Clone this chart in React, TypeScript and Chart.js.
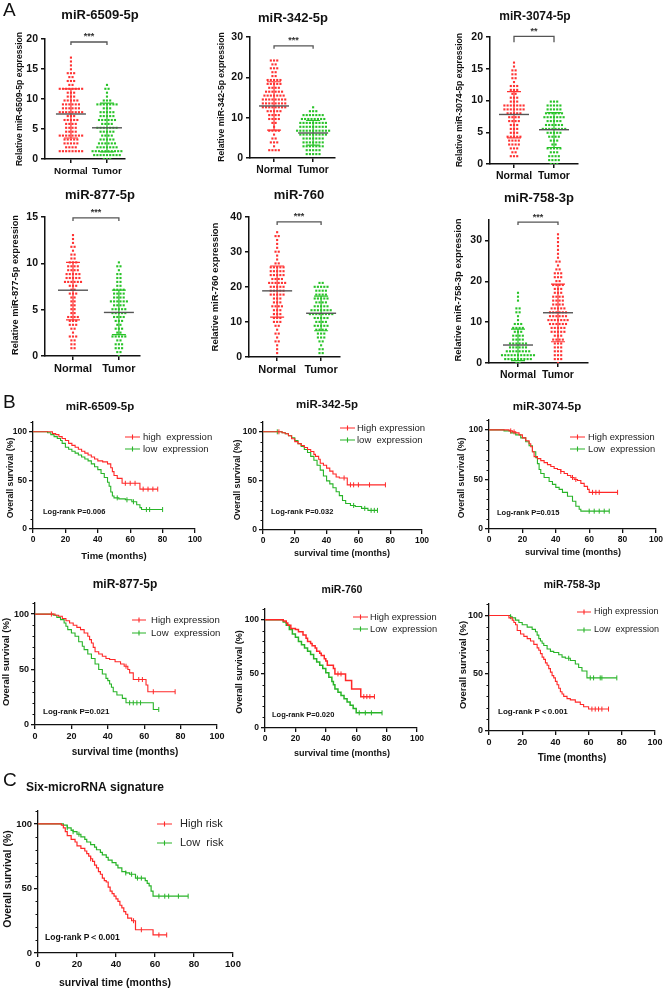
import React, { useEffect, useRef } from 'react';
import { Chart, registerables } from 'chart.js';
Chart.register(...registerables);

const FONT = '"Liberation Sans", Arial, Helvetica, sans-serif';
const RED = 'rgb(255,50,50)';
const GREEN = 'rgb(40,195,40)';
const KM_RED = 'rgb(255,40,40)';
const KM_GREEN = 'rgb(40,180,40)';
const YW = 30;
const XH = 22;
const MARGIN = { left: 70, top: 50, right: 45, bottom: 50 };

type Area = { l: number; t: number; r: number; b: number };

// ---------------- Panel A data (relative expression values) ----------------
const groupLabels = ['Normal', 'Tumor'];

const d6509Normal = [17.1, 16.4, 15.6, 14.9, 14.4, 14.2, 14.1, 13.9, 13.8, 13.2, 12.9, 12.4, 12.1, 11.9, 11.8, 11.7, 11.7, 11.6, 11.5, 11.5, 11.4, 11.2, 10.8, 10.6, 10.3, 10.1, 9.9, 9.8, 9.6, 9.5, 9.5, 9.4, 9.3, 9.1, 8.9, 8.8, 8.6, 8.4, 8.4, 8.3, 8.3, 8.2, 8.0, 7.8, 7.7, 7.6, 7.6, 7.5, 7.5, 7.4, 7.2, 7.0, 6.8, 6.7, 6.5, 6.3, 6.1, 6.0, 5.8, 5.6, 5.4, 5.3, 5.1, 4.9, 4.7, 4.5, 4.3, 4.1, 4.0, 4.0, 3.9, 3.9, 3.8, 3.7, 3.6, 3.5, 3.5, 3.4, 3.2, 3.0, 2.8, 2.7, 2.5, 2.3, 2.1, 1.9, 1.8, 1.6, 1.5, 1.4, 1.3, 1.2, 1.2, 1.1, 1.0, 9.0, 8.1, 6.2, 4.4, 2.9, 1.7, 11.3, 12.7];
const d6509Tumor = [12.6, 12.0, 11.4, 10.9, 10.4, 10.0, 9.7, 9.5, 9.4, 9.3, 9.3, 9.2, 9.0, 8.8, 8.6, 8.4, 8.3, 8.1, 7.9, 7.7, 7.6, 7.4, 7.3, 7.2, 7.0, 6.9, 6.7, 6.5, 6.4, 6.3, 6.2, 6.1, 5.9, 5.7, 5.6, 5.4, 5.3, 5.2, 5.2, 5.1, 5.0, 4.8, 4.7, 4.5, 4.3, 4.1, 3.9, 3.7, 3.5, 3.3, 3.2, 3.1, 3.0, 2.9, 2.7, 2.6, 2.4, 2.3, 2.2, 2.2, 2.1, 2.0, 1.9, 1.8, 1.7, 1.5, 1.4, 1.3, 1.3, 1.2, 1.2, 1.1, 1.0, 0.9, 0.8, 0.8, 0.7, 0.6, 0.5, 0.4, 0.4, 0.3, 0.2, 0.1, 8.9, 7.8, 6.6, 5.5, 4.6, 3.6, 2.5, 1.6, 1.1, 0.7];
const s6509Normal = [7.5, 3.5, 11.7];
const s6509Tumor = [5.2, 1.2, 9.3];

const d342Normal = [24.6, 24.3, 24.0, 23.6, 23.2, 22.5, 21.9, 21.4, 20.8, 20.3, 19.8, 19.4, 19.2, 19.0, 19.0, 18.8, 18.5, 18.2, 17.9, 17.6, 17.3, 17.1, 16.8, 16.5, 16.4, 16.3, 16.1, 15.9, 15.7, 15.5, 15.4, 15.3, 15.1, 14.9, 14.8, 14.7, 14.5, 14.4, 14.2, 14.1, 14.0, 13.9, 13.7, 13.5, 13.4, 13.3, 13.1, 13.0, 12.8, 12.6, 12.5, 12.4, 12.2, 12.0, 11.8, 11.6, 11.3, 11.1, 10.8, 10.5, 10.2, 9.9, 9.6, 9.2, 8.8, 8.3, 7.8, 7.2, 7.0, 6.9, 6.5, 6.0, 5.3, 4.6, 4.1, 3.9, 3.5, 2.9, 2.4, 2.0, 1.7, 1.5, 18.7, 17.5, 16.0, 15.0, 14.3, 13.6, 12.9, 12.1, 11.4, 10.0, 20.0, 22.0];
const d342Tumor = [12.1, 11.8, 11.5, 11.2, 11.0, 10.8, 10.6, 10.4, 10.3, 10.2, 10.0, 9.8, 9.7, 9.5, 9.4, 9.3, 9.2, 9.0, 8.9, 8.8, 8.7, 8.5, 8.4, 8.3, 8.1, 7.9, 7.8, 7.7, 7.6, 7.4, 7.3, 7.2, 7.1, 6.9, 6.8, 6.7, 6.6, 6.5, 6.4, 6.3, 6.3, 6.2, 6.1, 6.0, 5.9, 5.8, 5.7, 5.6, 5.5, 5.3, 5.2, 5.0, 4.9, 4.7, 4.5, 4.3, 4.1, 3.9, 3.7, 3.5, 3.3, 3.2, 3.1, 3.0, 2.8, 2.6, 2.4, 2.2, 2.0, 1.8, 1.6, 1.3, 1.1, 0.9, 0.7, 0.5, 10.9, 9.9, 9.1, 8.0, 7.0, 5.7, 4.8, 4.0, 3.4, 2.9, 8.6, 7.5];
const s342Normal = [12.9, 6.9, 18.9];
const s342Tumor = [6.2, 3.2, 9.3];

const d3074Normal = [16.0, 15.1, 14.9, 14.7, 14.4, 14.2, 13.8, 13.3, 12.8, 12.5, 12.1, 11.7, 11.5, 11.4, 11.3, 11.0, 10.7, 10.4, 10.1, 9.8, 9.6, 9.4, 9.3, 9.2, 9.1, 9.0, 8.9, 8.8, 8.7, 8.6, 8.5, 8.3, 8.1, 7.9, 7.8, 7.7, 7.5, 7.3, 7.1, 6.9, 6.7, 6.5, 6.3, 6.1, 5.9, 5.7, 5.5, 5.2, 5.0, 4.8, 4.5, 4.3, 4.1, 4.0, 3.9, 3.7, 3.4, 3.2, 3.0, 2.9, 2.8, 2.6, 2.4, 2.1, 1.8, 1.5, 1.2, 1.0, 9.5, 9.0, 8.6, 8.0, 7.4, 6.6, 5.8, 4.6, 3.6, 2.7, 10.6, 12.0];
const d3074Tumor = [10.0, 9.8, 9.7, 9.5, 9.4, 9.2, 9.1, 9.0, 8.8, 8.6, 8.5, 8.3, 8.2, 8.0, 7.9, 7.8, 7.7, 7.6, 7.5, 7.4, 7.3, 7.2, 7.0, 6.9, 6.8, 6.6, 6.4, 6.3, 6.2, 6.0, 5.9, 5.8, 5.7, 5.6, 5.5, 5.4, 5.4, 5.3, 5.2, 5.1, 5.0, 4.8, 4.6, 4.3, 4.0, 3.7, 3.4, 3.1, 2.9, 2.7, 2.6, 2.5, 2.3, 2.1, 1.9, 1.7, 1.5, 1.3, 1.1, 0.9, 0.7, 0.5, 0.3, 0.2, 0.1, 8.9, 8.1, 7.6, 7.1, 6.5, 6.1, 5.5, 5.0, 4.4, 3.5, 2.2, 1.2, 0.6];
const s3074Normal = [7.8, 4.1, 11.4];
const s3074Tumor = [5.4, 2.6, 8.1];

const d877Normal = [12.9, 12.6, 12.0, 11.8, 11.6, 11.3, 11.0, 10.7, 10.4, 10.2, 10.1, 10.0, 9.8, 9.6, 9.5, 9.4, 9.3, 9.2, 9.1, 9.0, 8.9, 8.8, 8.7, 8.6, 8.5, 8.4, 8.3, 8.2, 8.1, 8.0, 7.9, 7.8, 7.6, 7.4, 7.2, 7.0, 6.8, 6.6, 6.4, 6.1, 5.8, 5.5, 5.2, 5.0, 4.8, 4.6, 4.4, 4.2, 4.0, 3.9, 3.8, 3.6, 3.4, 3.2, 3.0, 2.8, 2.5, 2.2, 2.0, 1.8, 1.5, 1.2, 1.0, 0.8, 9.7, 9.0, 8.5, 8.0, 7.5, 6.9, 6.2, 5.3, 4.4, 3.3, 2.1, 1.4, 11.1];
const d877Tumor = [9.9, 9.8, 9.5, 9.2, 8.9, 8.6, 8.3, 8.0, 7.8, 7.6, 7.4, 7.3, 7.1, 7.0, 6.9, 6.8, 6.6, 6.5, 6.4, 6.3, 6.1, 6.0, 5.9, 5.8, 5.7, 5.6, 5.5, 5.4, 5.3, 5.2, 5.1, 5.0, 4.9, 4.8, 4.7, 4.6, 4.5, 4.4, 4.3, 4.1, 3.9, 3.7, 3.5, 3.3, 3.1, 2.9, 2.7, 2.5, 2.3, 2.2, 2.1, 1.9, 1.7, 1.5, 1.3, 1.1, 0.9, 0.7, 0.5, 0.3, 0.1, 7.2, 6.7, 6.2, 5.7, 5.2, 4.8, 4.2, 3.6, 2.8, 2.0, 1.4, 0.8, 8.8];
const s877Normal = [7.1, 3.9, 10.1];
const s877Tumor = [4.7, 2.3, 7.1];

const d760Normal = [35.4, 35.0, 34.2, 33.1, 32.0, 31.2, 30.3, 29.8, 28.6, 27.8, 27.0, 26.4, 26.1, 25.9, 25.6, 25.3, 24.8, 24.5, 24.3, 23.8, 23.5, 23.3, 22.9, 22.5, 22.3, 22.1, 21.7, 21.5, 21.3, 20.9, 20.7, 20.5, 20.1, 19.8, 19.6, 19.4, 19.0, 18.7, 18.5, 18.3, 17.9, 17.5, 17.1, 16.7, 16.3, 15.9, 15.5, 15.0, 14.5, 14.0, 13.5, 13.0, 12.5, 12.0, 11.6, 11.3, 10.8, 10.2, 9.5, 8.8, 8.0, 7.2, 6.4, 5.6, 4.8, 4.0, 3.2, 2.4, 1.5, 26.0, 25.0, 24.0, 23.0, 22.0, 21.0, 20.3, 19.2, 18.0, 17.3, 16.0, 14.8, 13.2, 11.8, 10.4, 9.1];
const d760Tumor = [21.0, 20.7, 20.4, 20.1, 19.8, 19.5, 19.2, 18.8, 18.4, 18.0, 17.6, 17.4, 17.2, 16.8, 16.4, 16.0, 15.6, 15.3, 15.0, 14.7, 14.4, 14.1, 13.8, 13.5, 13.3, 13.1, 13.0, 12.8, 12.6, 12.5, 12.3, 12.1, 12.0, 11.7, 11.4, 11.1, 10.8, 10.5, 10.2, 9.9, 9.6, 9.3, 9.0, 8.7, 8.3, 7.9, 7.5, 7.1, 6.5, 5.8, 5.2, 4.6, 4.0, 3.3, 2.6, 2.0, 1.4, 1.0, 19.9, 19.0, 18.2, 17.0, 16.2, 15.1, 14.2, 13.6, 12.9, 12.2, 11.5, 10.6, 9.4, 8.5, 7.7, 6.8, 5.5];
const s760Normal = [18.9, 11.4, 26.0];
const s760Tumor = [12.5, 7.5, 17.4];

const d758Normal = [17.3, 16.4, 15.2, 13.4, 13.0, 12.6, 12.1, 11.3, 10.5, 9.8, 9.3, 9.1, 8.8, 8.4, 8.2, 7.9, 7.4, 7.0, 6.6, 6.3, 6.0, 5.7, 5.4, 5.1, 4.9, 4.6, 4.4, 4.2, 4.0, 3.8, 3.6, 3.4, 3.2, 3.0, 2.8, 2.6, 2.5, 2.4, 2.3, 2.2, 2.1, 2.0, 1.9, 1.8, 1.7, 1.6, 1.5, 1.4, 1.3, 1.2, 1.1, 1.0, 0.9, 0.8, 0.7, 0.5, 0.3, 0.1, 1.7, 2.1, 2.6, 3.1, 3.7, 4.3, 5.0, 5.8, 6.8, 7.6, 9.0];
const d758Tumor = [31.3, 30.5, 29.6, 28.7, 27.8, 26.9, 26.0, 25.2, 24.4, 23.8, 23.2, 22.6, 22.1, 21.6, 21.2, 20.7, 20.2, 19.7, 19.3, 19.2, 19.0, 18.6, 18.2, 17.8, 17.4, 17.0, 16.6, 16.2, 15.8, 15.4, 15.0, 14.6, 14.3, 14.0, 13.7, 13.4, 13.1, 12.8, 12.5, 12.2, 12.0, 11.9, 11.6, 11.3, 11.0, 10.7, 10.5, 10.3, 10.1, 9.9, 9.7, 9.5, 9.2, 8.9, 8.6, 8.3, 8.0, 7.7, 7.4, 7.0, 6.6, 6.2, 5.8, 5.4, 5.0, 4.6, 4.2, 3.8, 3.4, 3.0, 2.6, 2.2, 1.8, 1.4, 1.0, 0.6, 0.2, 18.9, 17.1, 16.0, 14.8, 13.9, 12.9, 12.4, 11.8, 11.2, 10.9, 10.4, 10.0, 9.6, 9.0, 8.5, 7.9, 7.2, 6.4, 5.6, 4.4, 3.2, 2.0, 21.9, 20.9, 15.6, 13.3, 12.1, 10.6];
const s758Normal = [4.4, 0.6, 8.3];
const s758Tumor = [12.3, 5.2, 19.3];

// ---------------- Panel B/C data (Kaplan-Meier steps) ----------------
const km6509HighT = [12, 14, 16, 18, 20, 22, 24, 26, 28, 30, 32, 34, 36, 38, 40, 43, 46, 48, 49, 50, 52, 55, 66];
const km6509HighS = [98, 97, 95, 93, 91, 88, 86, 84, 82, 80, 78, 76, 74, 72, 70, 69, 67, 63, 59, 55, 52, 47, 41];
const km6509HighC = [57, 60, 63, 68, 71, 74, 77];
const km6509LowT = [9, 11, 13, 15, 17, 18, 20, 22, 24, 26, 28, 30, 32, 34, 36, 38, 40, 42, 44, 46, 47, 48, 49, 50, 53, 57, 61, 64, 66, 67];
const km6509LowS = [99, 97, 95, 93, 91, 88, 84, 82, 80, 78, 76, 74, 72, 70, 67, 64, 61, 57, 53, 48, 44, 38, 34, 32, 31, 30, 28, 25, 22, 20];
const km6509LowC = [52, 58, 62, 70, 72, 80];

const km342HighT = [12, 14, 16, 18, 20, 22, 24, 26, 28, 30, 32, 33, 35, 36, 38, 40, 42, 44, 46, 48, 53];
const km342HighS = [99, 98, 96, 93, 90, 88, 86, 84, 82, 80, 77, 75, 72, 68, 66, 63, 60, 57, 54, 53, 46];
const km342HighC = [10, 51, 55, 57, 60, 67, 77];
const km342LowT = [12, 14, 16, 18, 20, 22, 24, 26, 28, 30, 32, 34, 36, 38, 40, 42, 44, 46, 48, 50, 52, 55, 58, 62, 66];
const km342LowS = [99, 98, 96, 94, 91, 88, 85, 82, 79, 75, 71, 66, 61, 55, 50, 47, 43, 39, 35, 30, 27, 25, 24, 22, 20];
const km342LowC = [9, 57, 64, 68, 70, 72];

const km3074HighT = [12, 14, 16, 18, 20, 22, 24, 25, 26, 27, 29, 31, 33, 35, 37, 39, 41, 43, 45, 47, 49, 51, 53, 55, 57, 59, 60];
const km3074HighS = [99, 98, 97, 95, 92, 89, 86, 83, 78, 73, 71, 69, 67, 65, 63, 61, 60, 58, 56, 54, 52, 50, 49, 46, 43, 40, 37];
const km3074HighC = [13, 15, 43, 50, 52, 62, 64, 66, 77];
const km3074LowT = [9, 13, 16, 19, 22, 24, 26, 28, 29, 30, 31, 33, 36, 38, 40, 42, 44, 47, 50, 52, 54, 55];
const km3074LowS = [99, 97, 95, 92, 88, 84, 78, 72, 66, 60, 56, 52, 48, 45, 42, 40, 37, 33, 28, 23, 20, 18];
const km3074LowC = [60, 63, 66, 69, 72];

const km877HighT = [11, 13, 15, 17, 19, 21, 23, 25, 27, 29, 30, 31, 32, 33, 35, 37, 39, 41, 44, 47, 49, 51, 52, 54, 61, 62];
const km877HighS = [99, 98, 96, 94, 92, 90, 88, 86, 83, 80, 77, 74, 70, 66, 64, 62, 60, 59, 57, 55, 53, 50, 47, 41, 36, 30];
const km877HighC = [9, 50, 57, 59, 65, 77];
const km877LowT = [10, 12, 14, 16, 17, 18, 20, 22, 24, 26, 27, 29, 31, 33, 35, 37, 39, 40, 41, 42, 43, 45, 48, 50, 65];
const km877LowS = [99, 97, 95, 92, 89, 86, 83, 80, 75, 71, 68, 64, 60, 55, 50, 46, 42, 40, 37, 34, 30, 27, 24, 20, 14];
const km877LowC = [52, 54, 56, 58, 68];

const km760HighT = [12, 14, 15, 17, 20, 22, 25, 27, 28, 30, 31, 33, 34, 36, 37, 39, 40, 41, 45, 46, 53, 57, 63];
const km760HighS = [99, 97, 95, 92, 91, 89, 86, 83, 80, 78, 76, 74, 71, 69, 67, 64, 62, 58, 55, 50, 44, 36, 29];
const km760HighC = [48, 50, 65, 67, 69, 72];
const km760LowT = [12, 14, 16, 18, 20, 22, 24, 26, 28, 30, 32, 34, 36, 38, 40, 42, 44, 45, 46, 48, 50, 52, 54, 56, 58, 60];
const km760LowS = [98, 95, 91, 87, 84, 80, 77, 74, 71, 68, 64, 61, 58, 55, 51, 47, 43, 40, 36, 33, 30, 27, 24, 21, 18, 14];
const km760LowC = [62, 66, 70, 77];

const km758HighT = [12, 14, 15, 16, 17, 19, 21, 23, 25, 27, 29, 30, 31, 32, 33, 34, 35, 36, 37, 38, 39, 40, 41, 42, 43, 44, 45, 47, 49, 52, 55, 57, 60];
const km758HighS = [98, 96, 94, 92, 87, 84, 82, 80, 78, 75, 72, 70, 67, 64, 62, 59, 57, 54, 51, 48, 46, 43, 40, 37, 34, 32, 30, 28, 27, 25, 23, 21, 19];
const km758HighC = [62, 64, 66, 68, 72];
const km758LowT = [13, 14, 16, 18, 20, 23, 26, 28, 29, 30, 31, 32, 33, 35, 37, 39, 42, 44, 46, 49, 52, 54, 56, 59];
const km758LowS = [99, 98, 96, 94, 92, 90, 88, 86, 83, 80, 78, 76, 74, 71, 69, 68, 66, 64, 63, 61, 58, 55, 52, 46];
const km758LowC = [13, 48, 61, 63, 67, 68, 77];

const kmSixHighT = [12, 13, 14, 15, 17, 19, 20, 22, 24, 25, 26, 27, 28, 29, 30, 31, 32, 33, 34, 35, 36, 37, 38, 39, 40, 41, 42, 43, 44, 45, 46, 48, 50, 59];
const kmSixHighS = [99, 97, 94, 91, 88, 86, 83, 81, 79, 77, 75, 73, 71, 68, 66, 63, 61, 58, 56, 55, 51, 48, 46, 44, 42, 40, 37, 35, 32, 30, 27, 25, 18, 14];
const kmSixHighC = [27, 49, 53, 62, 66];
const kmSixLowT = [13, 15, 17, 18, 20, 22, 24, 25, 27, 29, 30, 32, 33, 35, 36, 38, 40, 41, 43, 45, 47, 50, 55, 56, 57, 58, 59];
const kmSixLowS = [99, 97, 95, 94, 92, 90, 88, 86, 84, 82, 80, 78, 76, 74, 72, 70, 68, 66, 63, 62, 61, 58, 56, 54, 52, 48, 44];
const kmSixLowC = [15, 18, 21, 45, 48, 51, 53, 62, 65, 67, 72, 77];

const kmXTicks = [0, 20, 40, 60, 80, 100];
const kmYTicks = [0, 50, 100];

// ---------------- helpers ----------------
const fnt = (size: number, bold = true) => `${bold ? 'bold ' : ''}${size}px ${FONT}`;

function drawText(ctx: CanvasRenderingContext2D, s: string, x: number, y: number, font: string, align: CanvasTextAlign = 'center', rot = 0, color = '#111') {
  ctx.save();
  ctx.font = font;
  ctx.fillStyle = color;
  ctx.textAlign = align;
  ctx.textBaseline = 'middle';
  ctx.translate(x, y);
  if (rot) ctx.rotate(rot);
  ctx.fillText(s, 0, 0);
  ctx.restore();
}

function swarm(values: number[], center: number, pxPerX: number, pxPerY: number, rowPx: number, gapPx: number) {
  const rows = new Map<number, number>();
  const pts: { x: number; y: number }[] = [];
  const sorted = [...values].sort((a, b) => a - b);
  const counts = new Map<number, number>();
  sorted.forEach((v) => {
    const k = Math.round((v * pxPerY) / rowPx);
    counts.set(k, (counts.get(k) || 0) + 1);
  });
  sorted.forEach((v) => {
    const k = Math.round((v * pxPerY) / rowPx);
    const n = counts.get(k)!;
    const i = rows.get(k) || 0;
    rows.set(k, i + 1);
    pts.push({ x: center + ((i - (n - 1) / 2) * gapPx) / pxPerX, y: (k * rowPx) / pxPerY });
  });
  return pts;
}

function stepAt(T: number[], S: number[], t: number) {
  let s = 100;
  for (let i = 0; i < T.length; i++) if (T[i] <= t) s = S[i];
  return s;
}

function axisStyle(width: number) {
  return {
    grid: { display: true, drawOnChartArea: false, drawTicks: true, tickLength: 4, color: '#111', lineWidth: width },
    border: { display: true, color: '#111', width },
  };
}

function layoutPadding() {
  return { left: MARGIN.left - YW, top: MARGIN.top, right: MARGIN.right, bottom: MARGIN.bottom - XH };
}

// ---------------- dot plot panels ----------------
type DotPanel = {
  title: string; yTitle: string; groups: number[][]; colors: string[]; stats: number[][];
  yMax: number; tickMax: number; step: number; area: Area; xMin: number; xMax: number;
  titleX: number; titleY: number; titleSize: number; yTitleX: number; yTitleY: number; yTitleSize: number;
  bracket: number; stars: string; cap: number; labelSize: number;
};

const dotPanels: DotPanel[] = [
  { title: 'miR-6509-5p', yTitle: 'Relative miR-6509-5p expression', groups: [d6509Normal, d6509Tumor], colors: [RED, GREEN], stats: [s6509Normal, s6509Tumor], yMax: 20, tickMax: 20, step: 5, area: { l: 45, t: 39, r: 125, b: 159 }, xMin: 0.28, xMax: 2.5, titleX: 100, titleY: 15, titleSize: 13, yTitleX: 20, yTitleY: 99, yTitleSize: 8.6, bracket: 19.5, stars: '***', cap: 3, labelSize: 9.8 },
  { title: 'miR-342-5p', yTitle: 'Relative miR-342-5p expression', groups: [d342Normal, d342Tumor], colors: [RED, GREEN], stats: [s342Normal, s342Tumor], yMax: 30, tickMax: 30, step: 10, area: { l: 250, t: 37, r: 335, b: 158 }, xMin: 0.385, xMax: 2.56, titleX: 293, titleY: 18, titleSize: 13, yTitleX: 222, yTitleY: 97, yTitleSize: 8.6, bracket: 27.8, stars: '***', cap: 3, labelSize: 10.3 },
  { title: 'miR-3074-5p', yTitle: 'Relative miR-3074-5p expression', groups: [d3074Normal, d3074Tumor], colors: [RED, GREEN], stats: [s3074Normal, s3074Tumor], yMax: 20, tickMax: 20, step: 5, area: { l: 490, t: 37, r: 578, b: 164 }, xMin: 0.4, xMax: 2.6, titleX: 535, titleY: 17, titleSize: 12, yTitleX: 460, yTitleY: 100, yTitleSize: 8.6, bracket: 20.1, stars: '**', cap: 6, labelSize: 10.5 },
  { title: 'miR-877-5p', yTitle: 'Relative miR-877-5p expression', groups: [d877Normal, d877Tumor], colors: [RED, GREEN], stats: [s877Normal, s877Tumor], yMax: 15, tickMax: 15, step: 5, area: { l: 45, t: 217, r: 140, b: 356 }, xMin: 0.39, xMax: 2.46, titleX: 100, titleY: 195, titleSize: 13, yTitleX: 15, yTitleY: 285, yTitleSize: 9.3, bracket: 14.9, stars: '***', cap: 3, labelSize: 11 },
  { title: 'miR-760', yTitle: 'Relative miR-760 expression', groups: [d760Normal, d760Tumor], colors: [RED, GREEN], stats: [s760Normal, s760Tumor], yMax: 40, tickMax: 40, step: 10, area: { l: 249, t: 217, r: 340, b: 357 }, xMin: 0.36, xMax: 2.43, titleX: 299, titleY: 195, titleSize: 13, yTitleX: 215, yTitleY: 287, yTitleSize: 9.5, bracket: 38.6, stars: '***', cap: 3, labelSize: 11 },
  { title: 'miR-758-3p', yTitle: 'Relative miR-758-3p expression', groups: [d758Normal, d758Tumor], colors: [GREEN, RED], stats: [s758Normal, s758Tumor], yMax: 35, tickMax: 30, step: 10, area: { l: 489, t: 220, r: 588, b: 363 }, xMin: 0.275, xMax: 2.75, titleX: 539, titleY: 198, titleSize: 13, yTitleX: 458, yTitleY: 290, yTitleSize: 9.5, bracket: 34.5, stars: '***', cap: 3, labelSize: 10.5 },
];

function dotConfig(p: DotPanel, ox: number, oy: number) {
  const pxX = (p.area.r - p.area.l) / (p.xMax - p.xMin);
  const pxY = (p.area.b - p.area.t) / p.yMax;
  const meanHalf = 15 / pxX;
  const capHalf = 7 / pxX;
  const datasets: any[] = [];
  p.groups.forEach((_, gi) => {
    const cx = gi + 1;
    const [m, lo, hi] = p.stats[gi];
    datasets.push({ type: 'line', data: [{ x: cx - meanHalf, y: m }, { x: cx + meanHalf, y: m }], borderColor: '#555', borderWidth: 1.4, pointRadius: 0, order: 0 });
    datasets.push({
      type: 'line',
      data: [{ x: cx - capHalf, y: hi }, { x: cx + capHalf, y: hi }, { x: cx, y: null }, { x: cx - capHalf, y: lo }, { x: cx + capHalf, y: lo }, { x: cx, y: null }, { x: cx, y: lo }, { x: cx, y: hi }],
      borderColor: p.colors[gi], borderWidth: 1.2, pointRadius: 0, spanGaps: false, order: 1,
    });
  });
  p.groups.forEach((vals, gi) => {
    datasets.push({ type: 'scatter', data: swarm(vals, gi + 1, pxX, pxY, 3.9, 3.2), pointStyle: 'rect', pointRadius: 1.5, backgroundColor: p.colors[gi], borderWidth: 0, order: 2 });
  });
  const deco = {
    id: 'deco',
    afterDraw(chart: any) {
      const ctx = chart.ctx as CanvasRenderingContext2D;
      const xs = chart.scales.x, ys = chart.scales.y;
      drawText(ctx, p.title, p.titleX - ox, p.titleY - oy, fnt(p.titleSize));
      drawText(ctx, p.yTitle, p.yTitleX - ox, p.yTitleY - oy, fnt(p.yTitleSize), 'center', -Math.PI / 2);
      const x1 = xs.getPixelForValue(1), x2 = xs.getPixelForValue(2), by = ys.getPixelForValue(p.bracket);
      ctx.save();
      ctx.strokeStyle = '#555';
      ctx.lineWidth = 1.3;
      ctx.beginPath();
      ctx.moveTo(x1, by + p.cap); ctx.lineTo(x1, by); ctx.lineTo(x2, by); ctx.lineTo(x2, by + p.cap);
      ctx.stroke();
      ctx.restore();
      drawText(ctx, p.stars, (x1 + x2) / 2, by - 5, fnt(9), 'center', 0, '#333');
    },
  };
  return {
    type: 'scatter',
    data: { datasets },
    options: {
      animation: false, responsive: false, devicePixelRatio: 1, events: [],
      layout: { padding: layoutPadding() },
      plugins: { legend: { display: false }, tooltip: { enabled: false }, title: { display: false } },
      scales: {
        x: {
          type: 'linear', min: p.xMin, max: p.xMax,
          afterBuildTicks: (s: any) => { s.ticks = [{ value: 1 }, { value: 2 }]; },
          afterFit: (s: any) => { s.height = XH; },
          ticks: { callback: (v: any) => groupLabels[Math.round(v) - 1] ?? '', font: { family: FONT, size: p.labelSize, weight: 'bold' }, color: '#111', padding: 2, maxRotation: 0, autoSkip: false },
          ...axisStyle(1.5),
        },
        y: {
          type: 'linear', min: 0, max: p.yMax,
          afterBuildTicks: (s: any) => { const t: any[] = []; for (let v = 0; v <= p.tickMax + 1e-9; v += p.step) t.push({ value: v }); s.ticks = t; },
          afterFit: (s: any) => { s.width = YW; },
          ticks: { font: { family: FONT, size: 10.5, weight: 'bold' }, color: '#111', padding: 3 },
          ...axisStyle(1.5),
        },
      },
    },
    plugins: [deco],
  };
}

// ---------------- KM panels ----------------
type Curve = { T: number[]; S: number[]; C: number[]; color: string };
type KmPanel = {
  area: Area; curves: Curve[]; title: string; titleX: number; titleY: number; titleSize: number;
  yTitleX: number; yTitleY: number; yTitleSize: number; xTitle: string; xTitleX: number; xTitleY: number; xTitleSize: number;
  legend: string[]; legX1: number; legX2: number; legTX: number; legY1: number; legY2: number; legSize: number;
  logrank: string; lrX: number; lrY: number; lrSize: number; tickSize: number; lineW: number;
};

const kmPanels: KmPanel[] = [
  { area: { l: 33, t: 422, r: 195, b: 529 }, curves: [{ T: km6509HighT, S: km6509HighS, C: km6509HighC, color: KM_RED }, { T: km6509LowT, S: km6509LowS, C: km6509LowC, color: KM_GREEN }], title: 'miR-6509-5p', titleX: 100, titleY: 407, titleSize: 11.5, yTitleX: 11, yTitleY: 478, yTitleSize: 8.7, xTitle: 'Time (months)', xTitleX: 114, xTitleY: 556, xTitleSize: 9.5, legend: ['high  expression', 'low  expression'], legX1: 125, legX2: 140, legTX: 143, legY1: 437, legY2: 449, legSize: 9.5, logrank: 'Log-rank P=0.006', lrX: 43, lrY: 512, lrSize: 7.5, tickSize: 8.5, lineW: 1.1 },
  { area: { l: 263, t: 422, r: 422, b: 530 }, curves: [{ T: km342HighT, S: km342HighS, C: km342HighC, color: KM_RED }, { T: km342LowT, S: km342LowS, C: km342LowC, color: KM_GREEN }], title: 'miR-342-5p', titleX: 327, titleY: 405, titleSize: 11.5, yTitleX: 238, yTitleY: 480, yTitleSize: 8.7, xTitle: 'survival time (months)', xTitleX: 342, xTitleY: 554, xTitleSize: 9, legend: ['High expression', 'low  expression'], legX1: 340, legX2: 355, legTX: 357, legY1: 428, legY2: 440, legSize: 9.5, logrank: 'Log-rank P=0.032', lrX: 271, lrY: 512, lrSize: 7.5, tickSize: 8.5, lineW: 1.1 },
  { area: { l: 489, t: 420, r: 656, b: 529 }, curves: [{ T: km3074HighT, S: km3074HighS, C: km3074HighC, color: KM_RED }, { T: km3074LowT, S: km3074LowS, C: km3074LowC, color: KM_GREEN }], title: 'miR-3074-5p', titleX: 547, titleY: 407, titleSize: 11.5, yTitleX: 462, yTitleY: 478, yTitleSize: 8.7, xTitle: 'survival time (months)', xTitleX: 573, xTitleY: 553, xTitleSize: 9, legend: ['High expression', 'Low  expression'], legX1: 570, legX2: 585, legTX: 588, legY1: 437, legY2: 449, legSize: 9.3, logrank: 'Log-rank P=0.015', lrX: 497, lrY: 513, lrSize: 7.5, tickSize: 8.5, lineW: 1.1 },
  { area: { l: 35, t: 603, r: 217, b: 725 }, curves: [{ T: km877HighT, S: km877HighS, C: km877HighC, color: KM_RED }, { T: km877LowT, S: km877LowS, C: km877LowC, color: KM_GREEN }], title: 'miR-877-5p', titleX: 125, titleY: 585, titleSize: 12, yTitleX: 6, yTitleY: 662, yTitleSize: 9.5, xTitle: 'survival time (months)', xTitleX: 125, xTitleY: 752, xTitleSize: 10, legend: ['High expression', 'Low  expression'], legX1: 132, legX2: 146, legTX: 151, legY1: 620, legY2: 633, legSize: 9.6, logrank: 'Log-rank P=0.021', lrX: 43, lrY: 712, lrSize: 8, tickSize: 9, lineW: 1.1 },
  { area: { l: 265, t: 609, r: 417, b: 728 }, curves: [{ T: km760HighT, S: km760HighS, C: km760HighC, color: KM_RED }, { T: km760LowT, S: km760LowS, C: km760LowC, color: KM_GREEN }], title: 'miR-760', titleX: 342, titleY: 590, titleSize: 10.5, yTitleX: 240, yTitleY: 672, yTitleSize: 9, xTitle: 'survival time (months)', xTitleX: 342, xTitleY: 754, xTitleSize: 9, legend: ['High expression', 'Low  expression'], legX1: 353, legX2: 368, legTX: 370, legY1: 617, legY2: 629, legSize: 9.3, logrank: 'Log-rank P=0.020', lrX: 272, lrY: 715, lrSize: 7.5, tickSize: 8.5, lineW: 1.5 },
  { area: { l: 489, t: 604, r: 655, b: 731 }, curves: [{ T: km758HighT, S: km758HighS, C: km758HighC, color: KM_RED }, { T: km758LowT, S: km758LowS, C: km758LowC, color: KM_GREEN }], title: 'miR-758-3p', titleX: 572, titleY: 585, titleSize: 10.5, yTitleX: 463, yTitleY: 665, yTitleSize: 9.5, xTitle: 'Time (months)', xTitleX: 572, xTitleY: 758, xTitleSize: 10, legend: ['High expression', 'Low  expression'], legX1: 577, legX2: 591, legTX: 594, legY1: 612, legY2: 630, legSize: 9, logrank: 'Log-rank P\uFF1C0.001', lrX: 498, lrY: 712, lrSize: 8, tickSize: 9, lineW: 1.1 },
  { area: { l: 38, t: 811, r: 233, b: 953 }, curves: [{ T: kmSixHighT, S: kmSixHighS, C: kmSixHighC, color: KM_RED }, { T: kmSixLowT, S: kmSixLowS, C: kmSixLowC, color: KM_GREEN }], title: 'Six-microRNA signature', titleX: 95, titleY: 788, titleSize: 12, yTitleX: 8, yTitleY: 879, yTitleSize: 10.5, xTitle: 'survival time (months)', xTitleX: 115, xTitleY: 983, xTitleSize: 10.5, legend: ['High risk', 'Low  risk'], legX1: 157, legX2: 172, legTX: 180, legY1: 824, legY2: 843, legSize: 11, logrank: 'Log-rank P\uFF1C0.001', lrX: 45, lrY: 938, lrSize: 8.5, tickSize: 9.5, lineW: 1.2 },
];

function kmConfig(p: KmPanel, ox: number, oy: number) {
  const datasets: any[] = [];
  p.curves.forEach((c) => {
    const end = Math.max(...c.C, c.T[c.T.length - 1]);
    const line = [{ x: 0, y: 100 }, ...c.T.map((t, i) => ({ x: t, y: c.S[i] })), { x: end, y: c.S[c.S.length - 1] }];
    datasets.push({ type: 'line', data: line, stepped: true, borderColor: c.color, borderWidth: p.lineW, pointRadius: 0, fill: false });
    datasets.push({ type: 'scatter', data: c.C.map((t) => ({ x: t, y: stepAt(c.T, c.S, t) })), pointStyle: 'line', pointRotation: 90, pointRadius: 2.5, borderColor: c.color, borderWidth: 1, backgroundColor: c.color });
  });
  const deco = {
    id: 'deco',
    afterDraw(chart: any) {
      const ctx = chart.ctx as CanvasRenderingContext2D;
      const ys = chart.scales.y;
      const L = chart.chartArea.left;
      ctx.save();
      ctx.strokeStyle = '#111';
      ctx.lineWidth = 1;
      for (let v = 10; v <= 110; v += 10) {
        if (v % 50 === 0) continue;
        const y = Math.round(ys.getPixelForValue(v)) + 0.5;
        ctx.beginPath(); ctx.moveTo(L - 2.5, y); ctx.lineTo(L, y); ctx.stroke();
      }
      ctx.restore();
      drawText(ctx, p.title, p.titleX - ox, p.titleY - oy, fnt(p.titleSize));
      drawText(ctx, 'Overall survival (%)', p.yTitleX - ox, p.yTitleY - oy, fnt(p.yTitleSize), 'center', -Math.PI / 2);
      drawText(ctx, p.xTitle, p.xTitleX - ox, p.xTitleY - oy, fnt(p.xTitleSize));
      drawText(ctx, p.logrank, p.lrX - ox, p.lrY - oy, fnt(p.lrSize), 'left');
      const legY = [p.legY1, p.legY2];
      p.curves.forEach((c, i) => {
        const y = legY[i] - oy;
        ctx.save();
        ctx.strokeStyle = c.color;
        ctx.lineWidth = 1.1;
        ctx.beginPath();
        ctx.moveTo(p.legX1 - ox, y); ctx.lineTo(p.legX2 - ox, y);
        const mx = (p.legX1 + p.legX2) / 2 - ox;
        ctx.moveTo(mx, y - 2.5); ctx.lineTo(mx, y + 2.5);
        ctx.stroke();
        ctx.restore();
        drawText(ctx, p.legend[i], p.legTX - ox, y, fnt(p.legSize, false), 'left', 0, '#222');
      });
    },
  };
  return {
    type: 'scatter',
    data: { datasets },
    options: {
      animation: false, responsive: false, devicePixelRatio: 1, events: [],
      layout: { padding: layoutPadding() },
      plugins: { legend: { display: false }, tooltip: { enabled: false }, title: { display: false } },
      scales: {
        x: {
          type: 'linear', min: 0, max: 100,
          afterBuildTicks: (s: any) => { s.ticks = kmXTicks.map((v) => ({ value: v })); },
          afterFit: (s: any) => { s.height = XH; },
          ticks: { font: { family: FONT, size: p.tickSize, weight: 'bold' }, color: '#111', padding: 2, maxRotation: 0, autoSkip: false },
          ...axisStyle(1.3),
        },
        y: {
          type: 'linear', min: 0, max: 110,
          afterBuildTicks: (s: any) => { s.ticks = kmYTicks.map((v) => ({ value: v })); },
          afterFit: (s: any) => { s.width = YW; },
          ticks: { font: { family: FONT, size: p.tickSize, weight: 'bold' }, color: '#111', padding: 2 },
          ...axisStyle(1.3),
        },
      },
    },
    plugins: [deco],
  };
}

// ---------------- components ----------------
function ChartCanvas({ area, build }: { area: Area; build: (ox: number, oy: number) => any }) {
  const ref = useRef<HTMLCanvasElement>(null);
  const ox = area.l - MARGIN.left;
  const oy = area.t - MARGIN.top;
  const w = area.r - area.l + MARGIN.left + MARGIN.right;
  const h = area.b - area.t + MARGIN.top + MARGIN.bottom;
  useEffect(() => {
    const chart = new Chart(ref.current as HTMLCanvasElement, build(ox, oy));
    return () => chart.destroy();
  }, []);
  return <canvas ref={ref} width={w} height={h} style={{ position: 'absolute', left: ox, top: oy, width: w, height: h }} />;
}

const letterStyle = (top: number): React.CSSProperties => ({ position: 'absolute', left: 3, top, fontFamily: FONT, fontSize: 19, lineHeight: '20px', color: '#111' });

export default function App() {
  useEffect(() => {
    document.body.style.margin = '0';
    document.body.style.background = '#fff';
  }, []);
  return (
    <div style={{ position: 'absolute', left: 0, top: 0, width: 664, height: 991, overflow: 'hidden', background: '#fff' }}>
      {dotPanels.map((p, i) => (
        <ChartCanvas key={'d' + i} area={p.area} build={(ox, oy) => dotConfig(p, ox, oy)} />
      ))}
      {kmPanels.map((p, i) => (
        <ChartCanvas key={'k' + i} area={p.area} build={(ox, oy) => kmConfig(p, ox, oy)} />
      ))}
      <div style={letterStyle(0)}>A</div>
      <div style={letterStyle(392)}>B</div>
      <div style={letterStyle(770)}>C</div>
    </div>
  );
}
